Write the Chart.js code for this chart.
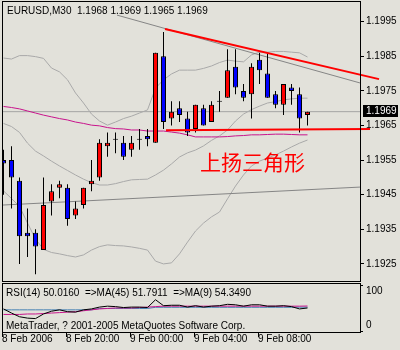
<!DOCTYPE html>
<html>
<head>
<meta charset="utf-8">
<script src="https://cdn.jsdelivr.net/npm/chart.js@4.4.0/dist/chart.umd.min.js"></script>
<style>
  body { margin: 0; background: #e2e1da; }
  #wrap { position: relative; width: 400px; height: 350px; overflow: hidden; }
  canvas { position: absolute; left: 0; }
  .txt { position: absolute; font: 10px "Liberation Sans", Arial, sans-serif; line-height: 12px; color: #000; white-space: pre; }
  #pattern { position: absolute; left: 200px; top: 151px; font: 21px "Noto Sans CJK SC"; line-height: 21px; color: #ff0000; white-space: pre; }
</style>
</head>
<body>
<div id="wrap">
  <canvas id="main" width="400" height="282" style="top:0"></canvas>
  <canvas id="sub" width="400" height="68" style="top:282px"></canvas>
  <div class="txt" style="left:7px;top:5px">EURUSD,M30  1.1968 1.1969 1.1965 1.1969</div>
  <div id="pattern">上扬三角形</div>
  <div class="txt" style="left:6px;top:287px">RSI(14) 50.0160  =&gt;MA(45) 51.7911  =&gt;MA(9) 54.3490</div>
  <div class="txt" style="left:6px;top:320px">MetaTrader, ? 2001-2005 MetaQuotes Software Corp.</div>
</div>
<script>
// EURUSD M30 bars, 8 Feb 16:00 -> 9 Feb 11:00
var opens  = [1.1955, 1.1955, 1.1949, 1.1934, 1.1934, 1.1929, 1.1943, 1.1947, 1.1947, 1.1939, 1.1942, 1.1948, 1.1950, 1.1959, 1.1961, 1.1960, 1.1958, 1.1961, 1.1962, 1.1960,
              1.1985, 1.1967, 1.1970, 1.1967, 1.1964, 1.1970, 1.1966, 1.1972, 1.1973, 1.1982, 1.1975, 1.1974, 1.1984, 1.1980, 1.1974, 1.1971, 1.1976, 1.1974, 1.1968];
var highs  = [1.1958, 1.1959, 1.1950, 1.1941, 1.1935, 1.1950, 1.1948, 1.1949, 1.1948, 1.1943, 1.1947, 1.1955, 1.1961, 1.1963, 1.1963, 1.1962, 1.1962, 1.1964, 1.1964, 1.1986,
              1.1992, 1.1972, 1.1972, 1.1969, 1.1971, 1.1971, 1.1972, 1.1975, 1.1987, 1.1987, 1.1977, 1.1983, 1.1986, 1.1986, 1.1975, 1.1977, 1.1977, 1.1976, 1.1969];
var lows   = [1.1945, 1.1941, 1.1925, 1.1927, 1.1922, 1.1929, 1.1939, 1.1944, 1.1936, 1.1938, 1.1941, 1.1946, 1.1949, 1.1956, 1.1957, 1.1955, 1.1956, 1.1958, 1.1959, 1.1960,
              1.1964, 1.1965, 1.1966, 1.1962, 1.1963, 1.1965, 1.1966, 1.1969, 1.1973, 1.1974, 1.1972, 1.1967, 1.1977, 1.1973, 1.1970, 1.1968, 1.1971, 1.1963, 1.1965];
var closes = [1.1954, 1.1950, 1.1933, 1.1933, 1.1930, 1.1942, 1.1946, 1.1948, 1.1938, 1.1941, 1.1947, 1.1949, 1.1960, 1.1960, 1.1961, 1.1956, 1.1960, 1.1961, 1.1961, 1.1986,
              1.1966, 1.1969, 1.1968, 1.1963, 1.1971, 1.1965, 1.1971, 1.1972, 1.1981, 1.1976, 1.1973, 1.1982, 1.1981, 1.1973, 1.1971, 1.1977, 1.1975, 1.1967, 1.1969];

// bollinger bands + moving average on price
var bbUpper  = [1.19845, 1.19842, 1.19852, 1.19852, 1.19849, 1.19844, 1.19816, 1.19805, 1.19782, 1.19744, 1.19715, 1.19683, 1.19663, 1.19651, 1.19660, 1.19670, 1.19677, 1.19686, 1.19695, 1.19758,
                1.19782, 1.19799, 1.19810, 1.19810, 1.19810, 1.19815, 1.19822, 1.19832, 1.19839, 1.19836, 1.19834, 1.19854, 1.19862, 1.19862, 1.19864, 1.19864, 1.19862, 1.19860, 1.19848];
var bbMiddle = [1.19656, 1.19647, 1.19630, 1.19599, 1.19576, 1.19562, 1.19547, 1.19533, 1.19520, 1.19507, 1.19495, 1.19485, 1.19478, 1.19478, 1.19482, 1.19488, 1.19493, 1.19494, 1.19495, 1.19507,
                1.19521, 1.19539, 1.19559, 1.19571, 1.19579, 1.19591, 1.19607, 1.19620, 1.19637, 1.19663, 1.19683, 1.19696, 1.19706, 1.19715, 1.19719, 1.19724, 1.19727, 1.19729, 1.19729];
var bbLower  = [1.19461, 1.19439, 1.19416, 1.19368, 1.19322, 1.19292, 1.19283, 1.19279, 1.19274, 1.19270, 1.19276, 1.19290, 1.19300, 1.19305, 1.19303, 1.19302, 1.19299, 1.19295, 1.19290, 1.19258,
                1.19250, 1.19253, 1.19279, 1.19313, 1.19345, 1.19368, 1.19386, 1.19400, 1.19438, 1.19475, 1.19507, 1.19533, 1.19547, 1.19556, 1.19565, 1.19576, 1.19588, 1.19599, 1.19608];
var maPrice  = [1.19705, 1.19702, 1.19698, 1.19692, 1.19686, 1.19680, 1.19675, 1.19670, 1.19666, 1.19660, 1.19656, 1.19651, 1.19649, 1.19644, 1.19641, 1.19640, 1.19637, 1.19637, 1.19634, 1.19634,
                1.19634, 1.19631, 1.19628, 1.19623, 1.19617, 1.19617, 1.19617, 1.19617, 1.19618, 1.19620, 1.19621, 1.19623, 1.19623, 1.19624, 1.19625, 1.19625, 1.19624, 1.19623, 1.19623];

// RSI(14) window
var rsi     = [48, 39, 31, 28, 27, 37, 43, 46, 42, 41, 46, 48, 52, 54, 53, 51, 52, 52, 51, 68,
               55, 56, 56, 52, 55, 52, 54, 55, 58, 57, 54, 57, 57, 54, 54, 55, 53, 48, 50.02];
var rsiMa45 = [46, 46, 46, 46, 46, 46, 46, 46, 46, 46, 46, 46, 49, 49, 49, 49, 49, 49, 49, 51.5,
               51.5, 51.5, 51.5, 51.5, 51.5, 51.5, 51.5, 51.5, 51.5, 51.5, 51.5, 51.5, 51.5, 51.5, 51.5, 51.5, 51.5, 51.8, 51.79];
var rsiMa9  = [36, 36, 36, 37, 37, 38, 39, 40, 41, 42, 44, 46, 48, 49, 50, 50, 50, 51, 52, 53,
               54, 54, 54, 54, 54, 54, 54, 54, 54, 54, 54, 54, 54, 54, 54, 54, 54, 54, 54.35];

var priceTicks = [1.1925, 1.1935, 1.1945, 1.1955, 1.1965, 1.1975, 1.1985, 1.1995];
var timeTicks  = [-0.1875, 7.8125, 15.8125, 23.8125, 31.8125];
var timeLabels = ['8 Feb 2006', '8 Feb 20:00', '9 Feb 00:00', '9 Feb 04:00', '9 Feb 08:00'];
var lastPrice = 1.1969;

// hand drawn trend lines [bar index, price]
var redUpper  = [[20.19, 1.19929], [46.94, 1.19784]];
var redLower  = [[20.31, 1.19636], [45.81, 1.19640]];
var greyUpper = [[14.19, 1.19969], [44.56, 1.19773]];
var greyLower = [[-0.19, 1.19420], [44.56, 1.19472]];

var xMin = -0.1875, xMax = 44.5625;

Chart.defaults.font.family = '"Liberation Sans", Arial, sans-serif';
Chart.defaults.font.size = 10;
Chart.defaults.color = '#000';

function pts(arr) {
    return arr.map(function (v, i) { return {x: i, y: v}; });
}
function seg(arr) {
    return arr.map(function (p) { return {x: p[0], y: p[1]}; });
}
function line(data, color, width, order, extra) {
    var ds = {type: 'line', data: data, borderColor: color, borderWidth: width || 1,
        pointRadius: 0, tension: 0, fill: false, order: order};
    for (var k in extra || {}) ds[k] = extra[k];
    return ds;
}
// keep the plot box where it is, whatever the labels want
function noPad(s) {
    s.paddingTop = 0; s.paddingBottom = 0; s.paddingLeft = 0; s.paddingRight = 0;
}

var frame = {
    id: 'frame',
    afterDatasetsDraw: function (chart) {
        var a = chart.chartArea, ctx = chart.ctx;
        ctx.save();
        ctx.strokeStyle = '#000';
        ctx.lineWidth = 1;
        ctx.strokeRect(Math.round(a.left) + 0.5, Math.round(a.top) + 0.5,
            Math.round(a.right - a.left), Math.round(a.bottom - a.top));
        ctx.restore();
    }
};

var priceTag = {
    id: 'priceTag',
    afterDraw: function (chart) {
        var ctx = chart.ctx;
        var y = Math.round(chart.scales.y.getPixelForValue(lastPrice));
        ctx.save();
        ctx.fillStyle = '#000';
        ctx.fillRect(363, y - 7, 35, 12);
        ctx.fillStyle = '#fff';
        ctx.font = '10px "Liberation Sans", Arial, sans-serif';
        ctx.textBaseline = 'middle';
        ctx.fillText(lastPrice.toFixed(4), 366, y - 1);
        ctx.restore();
    }
};

var bodies = opens.map(function (o, i) {
    var c = closes[i];
    return {x: i, y: o === c ? [o - 0.000015, o + 0.000015] : [o, c]};
});
var bodyColors = opens.map(function (o, i) {
    return closes[i] > o ? '#ff0000' : (closes[i] < o ? '#0000ff' : '#000000');
});
var wicks = lows.map(function (l, i) { return {x: i, y: [l, highs[i]]}; });

new Chart(document.getElementById('main'), {
    type: 'bar',
    data: {
        datasets: [
            {data: bodies, backgroundColor: bodyColors, borderColor: '#000', borderWidth: 1,
                borderSkipped: false, barThickness: 5, grouped: false, inflateAmount: 0, order: 1},
            {data: wicks, backgroundColor: '#000', borderWidth: 0, barThickness: 1,
                grouped: false, inflateAmount: 0, order: 2},
            line(pts(bbUpper), '#a9a9a9', 1, 4),
            line(pts(bbMiddle), '#a9a9a9', 1, 4),
            line(pts(bbLower), '#a9a9a9', 1, 4),
            line(pts(maPrice), '#c8148c', 1, 3),
            line([{x: xMin, y: lastPrice}, {x: xMax, y: lastPrice}], '#a4a4a4', 1, 5),
            line(seg(greyUpper), '#858585', 1, 3),
            line(seg(greyLower), '#858585', 1, 3),
            line(seg(redUpper), '#ff0000', 2, 0, {clip: false}),
            line(seg(redLower), '#ff0000', 2, 0, {clip: false})
        ]
    },
    options: {
        responsive: false,
        animation: false,
        devicePixelRatio: 1,
        layout: {padding: {left: 2, top: 1, right: 0, bottom: 1}},
        plugins: {legend: {display: false}, tooltip: {enabled: false}},
        scales: {
            x: {type: 'linear', min: xMin, max: xMax, offset: false, display: false},
            y: {
                position: 'right',
                min: 1.192006, max: 1.200098,
                afterBuildTicks: function (s) { s.ticks = priceTicks.map(function (v) { return {value: v}; }); },
                afterFit: function (s) { s.width = 40; noPad(s); },
                ticks: {callback: function (v) { return v.toFixed(4); }, padding: 2, autoSkip: false},
                grid: {drawOnChartArea: false, drawTicks: true, tickLength: 4, color: '#000'},
                border: {color: '#000'}
            }
        }
    },
    plugins: [frame, priceTag]
});

new Chart(document.getElementById('sub'), {
    type: 'line',
    data: {
        datasets: [
            line(pts(rsi), '#000000', 1, 0),
            line(pts(rsiMa9), '#c8148c', 1, 1),
            line(pts(rsiMa45), '#4682b4', 1, 2)
        ]
    },
    options: {
        responsive: false,
        animation: false,
        devicePixelRatio: 1,
        layout: {padding: {left: 2, top: 1, right: 0, bottom: 0}},
        plugins: {legend: {display: false}, tooltip: {enabled: false}},
        scales: {
            x: {
                type: 'linear', min: xMin, max: xMax, offset: false,
                afterBuildTicks: function (s) { s.ticks = timeTicks.map(function (v) { return {value: v}; }); },
                afterFit: function (s) { s.height = 18; noPad(s); },
                ticks: {
                    callback: function (v, i) { return timeLabels[i]; },
                    align: 'start', autoSkip: false, maxRotation: 0, padding: -4
                },
                grid: {drawOnChartArea: false, drawTicks: true, tickLength: 5, color: '#000'},
                border: {color: '#000'}
            },
            y: {
                position: 'right',
                min: -2.17, max: 104.35,
                afterBuildTicks: function (s) { s.ticks = [{value: 100}, {value: 0}]; },
                afterFit: function (s) { s.width = 40; noPad(s); },
                ticks: {
                    callback: function (v) { return v === 100 ? ['', '100'] : ['0', '']; },
                    padding: 3, autoSkip: false
                },
                grid: {drawOnChartArea: false, drawTicks: true, tickLength: 3, color: '#000'},
                border: {color: '#000'}
            }
        }
    },
    plugins: [frame]
});
</script>
</body>
</html>
